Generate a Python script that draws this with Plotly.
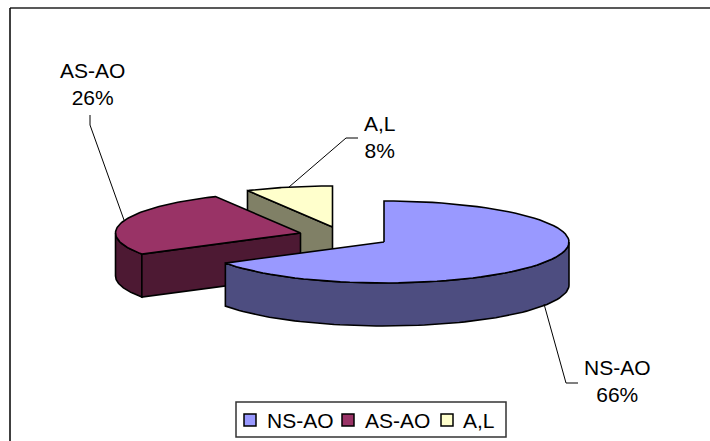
import numpy as np
import plotly.graph_objects as go

# shares behind the pie, labels show them rounded
labels = ["NS-AO", "AS-AO", "A,L"]
shares = [66.4, 26.0, 7.6]
shown_pct = ["66%", "26%", "8%"]

top_colors = ["#9999FF", "#993366", "#FFFFCC"]
side_colors = ["#4D4D80", "#4D1933", "#808066"]

# exploded slice centres in page pixels
centers = [(384, 242), (300.5, 233), (332.5, 227)]
rx = 185
ry = 41
depths = [43, 43, 42]

W, H = 710, 441
FONT = "Liberation Sans"

cum = np.cumsum([0] + shares) / sum(shares) * 2 * np.pi
fig = go.Figure()


def arc(c, a0, a1, dy=0):
    t = np.linspace(a0, a1, 80)
    return c[0] + rx * np.sin(t), c[1] - ry * np.cos(t) + dy


def poly(x, y, color):
    fig.add_trace(
        go.Scatter(
            x=list(x) + [x[0]],
            y=list(y) + [y[0]],
            mode="lines",
            fill="toself",
            fillcolor=color,
            line=dict(color="black", width=1.6),
            showlegend=False,
            hoverinfo="skip",
        )
    )


# back to front: yellow, red, blue
for i in [2, 1, 0]:
    c, d = centers[i], depths[i]
    a0, a1 = cum[i], cum[i + 1]

    # outer wall, only the part of the rim facing the viewer
    w0, w1 = max(a0, np.pi / 2), min(a1, 3 * np.pi / 2)
    if w1 > w0:
        ax, ay = arc(c, w0, w1)
        bx, by = arc(c, w0, w1, d)
        poly(np.r_[ax, bx[::-1]], np.r_[ay, by[::-1]], side_colors[i])

    # cut wall on the slices whose trailing edge faces front
    if i > 0:
        ex, ey = arc(c, a0, a0)
        ex, ey = ex[0], ey[0]
        poly([c[0], ex, ex, c[0]], [c[1], ey, ey + d, c[1] + d], side_colors[i])

    ax, ay = arc(c, a0, a1)
    poly(np.r_[c[0], ax], np.r_[c[1], ay], top_colors[i])

# leader lines
leaders = [
    ([544, 566, 578], [304, 383, 383]),
    ([90, 90, 124], [115, 125, 220]),
    ([289, 346, 358], [187, 138, 138]),
]
for lx, ly in leaders:
    fig.add_trace(
        go.Scatter(
            x=lx, y=ly, mode="lines", line=dict(color="black", width=1),
            showlegend=False, hoverinfo="skip",
        )
    )

label_pos = [(617, 381), (92, 84), (380, 137)]
for name, pct, (tx, ty) in zip(labels, shown_pct, label_pos):
    fig.add_annotation(
        x=tx, y=ty, text=f"{name}<br>{pct}", showarrow=False,
        font=dict(family=FONT, size=21, color="black"), align="center",
    )

# legend box drawn by hand, plotly's own legend can't get this tight
fig.add_shape(
    type="rect", x0=236, x1=506, y0=402, y1=437,
    fillcolor="white", line=dict(color="#333333", width=1.5),
)
swatch_x = [244, 342, 441]
text_x = [265, 363, 461]
for name, col, sx, tx in zip(labels, top_colors, swatch_x, text_x):
    fig.add_shape(
        type="rect", x0=sx, x1=sx + 12, y0=414, y1=426,
        fillcolor=col, line=dict(color="black", width=1.5),
    )
    fig.add_annotation(
        x=tx, y=420, text=name, showarrow=False, xanchor="left",
        font=dict(family=FONT, size=21, color="black"),
    )

# chart frame: only top and left edges are in the crop
fig.add_shape(type="line", x0=10, x1=710, y0=8, y1=8, line=dict(color="#222222", width=1.5))
fig.add_shape(type="line", x0=10, x1=10, y0=8, y1=441, line=dict(color="black", width=1.5))

fig.update_layout(
    width=W,
    height=H,
    margin=dict(l=0, r=0, t=0, b=0),
    paper_bgcolor="white",
    plot_bgcolor="white",
    showlegend=False,
)
fig.update_xaxes(range=[0, W], visible=False)
fig.update_yaxes(range=[H, 0], visible=False)

# the page's default body margin would shift everything by 8px
fig.write_html(
    "out.html",
    config={"displayModeBar": False},
    post_script="document.body.style.margin='0';",
)
